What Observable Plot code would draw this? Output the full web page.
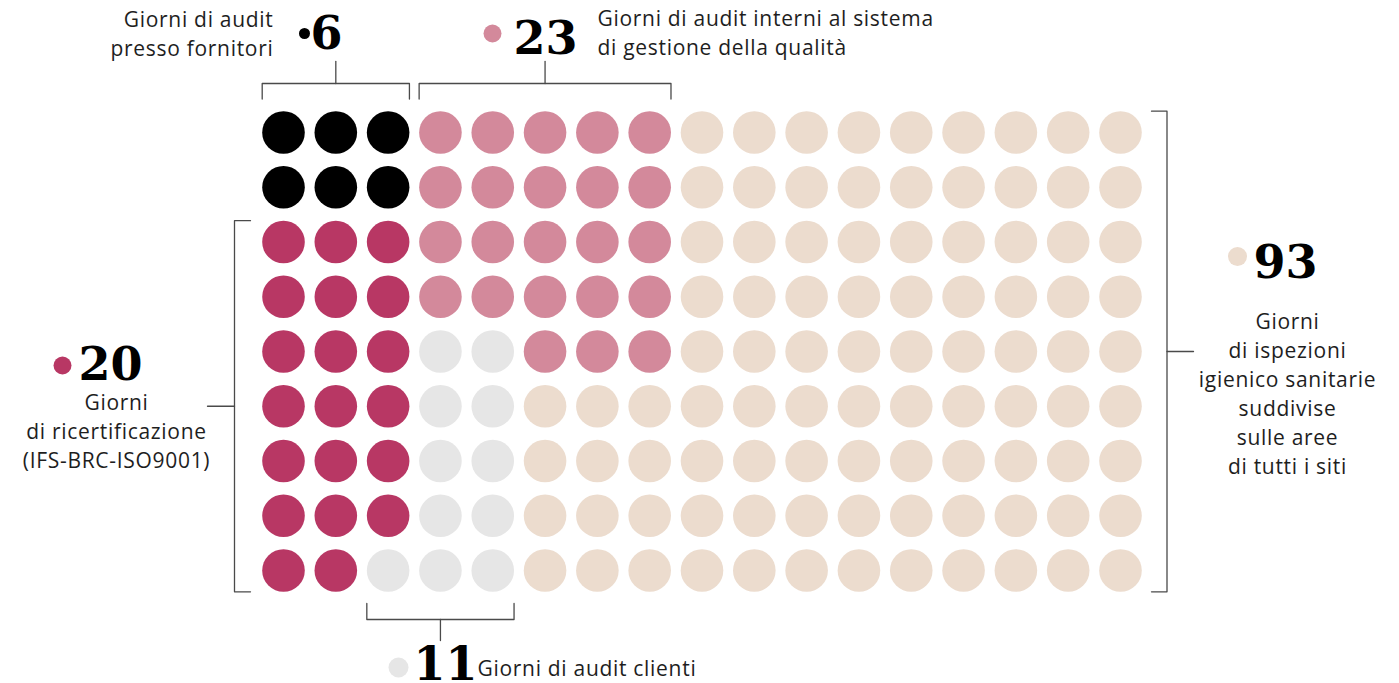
<!DOCTYPE html>
<html>
<head>
<meta charset="utf-8">
<script src="https://cdn.jsdelivr.net/npm/d3@7"></script>
<script src="https://cdn.jsdelivr.net/npm/@observablehq/plot@0.6"></script>
<style>
  html, body { margin: 0; padding: 0; background: #ffffff; }
  #chart svg { display: block; }
  #chart svg g[font-family*="Open Sans"] { letter-spacing: 0.7px; }
</style>
</head>
<body>
<div id="chart"></div>
<script>
// ---------- DATA ----------
const categories = ["fornitori", "interni", "ricertificazione", "clienti", "ispezioni"];
const counts = [6, 23, 20, 11, 93];
const codes = ["B", "P", "R", "C", "S"];
const colors = ["#000000", "#d3899b", "#b83764", "#e6e6e6", "#ecdcce"];
const labelTexts = [
  "Giorni di audit\npresso fornitori",
  "Giorni di audit interni al sistema\ndi gestione della qualità",
  "Giorni\ndi ricertificazione\n(IFS-BRC-ISO9001)",
  "Giorni di audit clienti",
  "Giorni\ndi ispezioni\nigienico sanitarie\nsuddivise\nsulle aree\ndi tutti i siti"
];
// grid of 17 columns x 9 rows: which category each dot belongs to
const grid = [
  "BBBPPPPPSSSSSSSSS",
  "BBBPPPPPSSSSSSSSS",
  "RRRPPPPPSSSSSSSSS",
  "RRRPPPPPSSSSSSSSS",
  "RRRCCPPPSSSSSSSSS",
  "RRRCCSSSSSSSSSSSS",
  "RRRCCSSSSSSSSSSSS",
  "RRRCCSSSSSSSSSSSS",
  "RRCCCSSSSSSSSSSSS"
];

// ---------- LAYOUT ----------
const X0 = 283, X1 = 1120, Y0 = 132, Y1 = 570;
const NC = grid[0].length - 1, NR = grid.length - 1;
const DX = (X1 - X0) / NC, DY = (Y1 - Y0) / NR;
const R = 21.3;
const ux = px => (px - X0) / DX;
const uy = py => (py - Y0) / DY;
const rx = R / DX, ry = R / DY;

const cells = [];
grid.forEach((row, r) => {
  [...row].forEach((ch, c) => {
    cells.push({col: c, row: r, cat: categories[codes.indexOf(ch)]});
  });
});

// brackets
const bracketPts = [];
let bid = 0;
function path(pts) { const id = bid++; pts.forEach(([x, y]) => bracketPts.push({id, x, y})); }
function topBracket(c0, c1) {
  const xa = c0 - rx, xb = c1 + rx, yl = uy(83), yt = uy(98.5), xm = (c0 + c1) / 2;
  path([[xa, yt], [xa, yl], [xb, yl], [xb, yt]]);
  path([[xm, yl], [xm, uy(61)]]);
}
function bottomBracket(c0, c1) {
  const xa = c0 - rx, xb = c1 + rx, yl = uy(619), yt = uy(603), xm = (c0 + c1) / 2;
  path([[xa, yt], [xa, yl], [xb, yl], [xb, yt]]);
  path([[xm, yl], [xm, uy(640)]]);
}
function sideBracket(r0, r1, xl, xt, xs) {
  const ya = r0 - ry, yb = r1 + ry, ym = (r0 + r1) / 2;
  path([[xt, ya], [xl, ya], [xl, yb], [xt, yb]]);
  path([[xl, ym], [xs, ym]]);
}
topBracket(0, 2);
topBracket(3, 7);
bottomBracket(2, 4);
sideBracket(2, 8, ux(234), ux(250), ux(207));
sideBracket(0, 8, ux(1166.5), ux(1151), ux(1193));

// annotation layout (pixel anchors converted through the grid units)
const numLayout = [
  {bx: 304, by: 33, br: 5.5, nx: 310, ny: 48},
  {bx: 492, by: 33, br: 9, nx: 513, ny: 53},
  {bx: 62, by: 365, br: 9, nx: 78, ny: 379},
  {bx: 398, by: 667, br: 10, nx: 413, ny: 679},
  {bx: 1237, by: 256, br: 9.5, nx: 1253, ny: 277}
];
const textLayout = [
  {x: 273, y: 55, anchor: "end"},
  {x: 597, y: 54, anchor: "start"},
  {x: 116, y: 467, anchor: "middle"},
  {x: 477, y: 675, anchor: "start"},
  {x: 1287, y: 473, anchor: "middle"}
];

const bullets = numLayout.map((d, i) => ({x: ux(d.bx), y: uy(d.by), r: d.br, cat: categories[i]}));
const numbers = numLayout.map((d, i) => ({x: ux(d.nx), y: uy(d.ny), t: String(counts[i])}));

const textMarks = textLayout.map((d, i) =>
  Plot.text([labelTexts[i]], {
    x: () => ux(d.x), y: () => uy(d.y), text: t => t,
    textAnchor: d.anchor, lineAnchor: "bottom", lineHeight: 1.38,
    fontFamily: "'Open Sans', sans-serif", fontSize: 21, fill: "#1e1e1e"
  })
);

const chart = Plot.plot({
  width: 1399,
  height: 683,
  margin: 0,
  style: {background: "#ffffff", overflow: "visible"},
  x: {domain: [0, NC], range: [X0, X1], axis: null},
  y: {domain: [0, NR], range: [Y0, Y1], axis: null},
  color: {domain: categories, range: colors},
  r: {type: "identity"},
  marks: [
    Plot.dot(cells, {x: "col", y: "row", r: R, fill: "cat", stroke: null}),
    Plot.line(bracketPts, {x: "x", y: "y", z: "id", stroke: "#4a4a4a", strokeWidth: 1.3, curve: "linear"}),
    Plot.dot(bullets, {x: "x", y: "y", r: "r", fill: "cat"}),
    Plot.text(numbers, {
      x: "x", y: "y", text: "t", textAnchor: "start", lineAnchor: "bottom",
      fontFamily: "'DejaVu Serif', serif", fontWeight: "bold", fontSize: 46, fill: "#000"
    }),
    ...textMarks
  ]
});
document.getElementById("chart").appendChild(chart);
</script>
</body>
</html>
